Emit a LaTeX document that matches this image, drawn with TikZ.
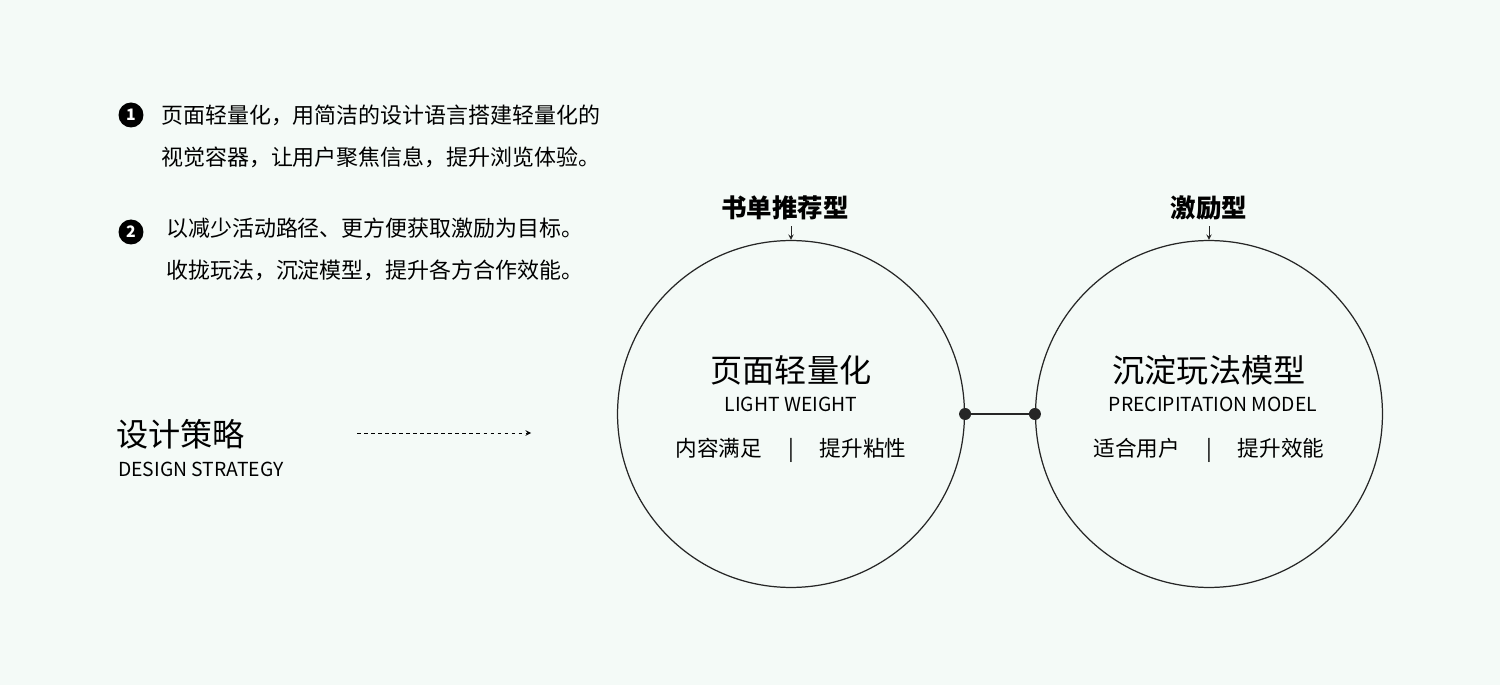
\documentclass[tikz,border=0pt]{standalone}
\usepackage{fontspec}
\setmainfont{Noto Sans CJK SC}
\usetikzlibrary{positioning}
\definecolor{bgmint}{HTML}{F4FAF7}
\tikzset{
	ring/.style={draw=black!85, line width=0.7pt, circle, minimum size=6.94cm, inner sep=0pt},
	knot/.style={fill=black!85, circle, minimum size=0.24cm, inner sep=0pt},
	badge/.style={fill=black, circle, minimum size=0.5cm, inner sep=0pt, text=white, font=\fontsize{9}{9}\selectfont\bfseries},
	para/.style={anchor=west, align=left, font=\fontsize{12.5}{24}\selectfont},
	tag/.style={font=\fontsize{14.5}{16}\selectfont\bfseries},
	bigtitle/.style={font=\fontsize{18.3}{20}\selectfont},
	entitle/.style={font=\fontsize{11}{12}\selectfont},
	subline/.style={font=\fontsize{12.3}{14}\selectfont}
}
\begin{document}
\begin{tikzpicture}[x=0.02cm, y=-0.02cm]
	\fill[bgmint] (0,0) rectangle (1500,685);
	\useasboundingbox (0,0) rectangle (1500,685);

	% left notes
	\node[badge] (b1) at (131,115) {1};
	\node[para] (t1) at (155,136) {页面轻量化，用简洁的设计语言搭建轻量化的\\视觉容器，让用户聚焦信息，提升浏览体验。};
	\node[badge] (b2) at (131,232) {2};
	\node[para] (t2) at (160,249) {以减少活动路径、更方便获取激励为目标。\\收拢玩法，沉淀模型，提升各方合作效能。};

	% strategy
	\node[bigtitle, anchor=west] (st) at (110,434) {设计策略};
	\node[entitle, anchor=west] (sten) at (112,469) {DESIGN STRATEGY};
	\coordinate (a0) at (357,433);
	\coordinate (a1) at (531,433);
	\draw[dashed, dash pattern=on 2pt off 2pt, ->, >=stealth] (a0) -- (a1);

	% circles
	\node[ring] (c1) at (791,414) {};
	\node[ring] (c2) at (1209,414) {};
	\node[knot] (k1) at (c1.east) {};
	\node[knot] (k2) at (c2.west) {};
	\draw[line width=0.9pt, black!85] (k1) -- (k2);

	\node[tag] (g1) at (785,208) {书单推荐型};
	\node[tag] (g2) at (1209,208) {激励型};
	\draw[->, >=stealth, black!85] (g1.south -| c1) -- (c1.north);
	\draw[->, >=stealth, black!85] (g2.south -| c2) -- (c2.north);

	% first circle text
	\node[bigtitle] (h1) at (791,370) {页面轻量化};
	\node[entitle] (e1) at (791,404) {LIGHT WEIGHT};
	\node[subline] (s1) at (791,450) {内容满足\hspace{1.2em}|\hspace{1.2em}提升粘性};

	% second circle text
	\node[bigtitle] (h2) at (1209,370) {沉淀玩法模型};
	\node[entitle] (e2) at (1213,404) {PRECIPITATION MODEL};
	\node[subline] (s2) at (1209,450) {适合用户\hspace{1.2em}|\hspace{1.2em}提升效能};
\end{tikzpicture}
\end{document}
